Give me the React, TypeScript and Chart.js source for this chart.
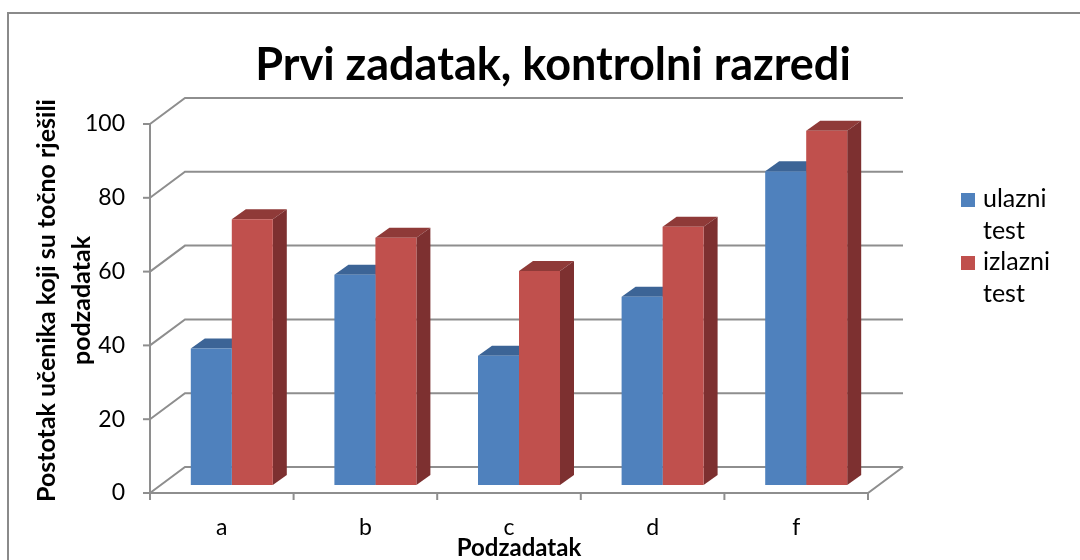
import React, { useEffect, useRef } from "react";
import { Chart, registerables } from "chart.js";

Chart.register(...registerables);

const categories = ["a", "b", "c", "d", "f"];
const ulazniTest = [37, 57, 35, 51, 85];
const izlazniTest = [72, 67, 58, 70, 96];
const seriesNames = [["ulazni", "test"], ["izlazni", "test"]];
const yMin = 0;
const yMax = 100;
const yStep = 20;

const FONT = "Lato, 'Open Sans', sans-serif";
const GRID = "#8e8e8e";
const BLUE = "#4F81BD";
const BLUE_TOP = "#3C6496";
const BLUE_SIDE = "#385D8A";
const RED = "#C0504D";
const RED_TOP = "#8F3A38";
const RED_SIDE = "#7D3030";

// 3D offsets (style)
const FRONT_DX = -10;
const FRONT_DY = 8;
const BACK_DX = 25;
const BACK_DY = -18;
const BAR_DX = 14;
const BAR_DY = -10;

const tops = [BLUE_TOP, RED_TOP];
const sides = [BLUE_SIDE, RED_SIDE];
const fronts = [BLUE, RED];

const threeD = {
  id: "threeD",
  beforeDatasetsDraw(chart: any) {
    const { ctx, chartArea } = chart;
    const ys = chart.scales.y;
    const fl = chartArea.left + FRONT_DX;
    const fr = chartArea.right + FRONT_DX;
    const bl = chartArea.left + BACK_DX;
    const br = chartArea.right + BACK_DX;
    const y0 = ys.getPixelForValue(yMin);
    const yT = ys.getPixelForValue(yMax);
    ctx.save();
    ctx.strokeStyle = GRID;
    ctx.lineWidth = 2;
    ctx.lineJoin = "miter";
    ys.ticks.forEach((t: any) => {
      const py = ys.getPixelForValue(t.value);
      ctx.beginPath();
      ctx.moveTo(fl, py + FRONT_DY);
      ctx.lineTo(bl, py + BACK_DY);
      ctx.lineTo(br, py + BACK_DY);
      ctx.stroke();
      ctx.beginPath();
      ctx.moveTo(fl - 7, py + FRONT_DY);
      ctx.lineTo(fl, py + FRONT_DY);
      ctx.stroke();
    });
    ctx.beginPath();
    ctx.moveTo(fl, yT + FRONT_DY);
    ctx.lineTo(fl, y0 + FRONT_DY);
    ctx.lineTo(fr, y0 + FRONT_DY);
    ctx.lineTo(br, y0 + BACK_DY);
    ctx.stroke();
    const n = categories.length;
    for (let i = 0; i <= n; i++) {
      const px = fl + (i * (fr - fl)) / n;
      ctx.beginPath();
      ctx.moveTo(px, y0 + FRONT_DY);
      ctx.lineTo(px, y0 + FRONT_DY + 7);
      ctx.stroke();
    }
    // bar tops and sides
    chart.data.datasets.forEach((_: any, di: number) => {
      const meta = chart.getDatasetMeta(di);
      meta.data.forEach((el: any) => {
        const x0 = el.x - el.width / 2;
        const x1 = el.x + el.width / 2;
        const top = el.y;
        const base = el.base;
        ctx.fillStyle = tops[di];
        ctx.beginPath();
        ctx.moveTo(x0, top);
        ctx.lineTo(x1, top);
        ctx.lineTo(x1 + BAR_DX, top + BAR_DY);
        ctx.lineTo(x0 + BAR_DX, top + BAR_DY);
        ctx.closePath();
        ctx.fill();
        ctx.fillStyle = sides[di];
        ctx.beginPath();
        ctx.moveTo(x1, top);
        ctx.lineTo(x1 + BAR_DX, top + BAR_DY);
        ctx.lineTo(x1 + BAR_DX, base + BAR_DY);
        ctx.lineTo(x1, base);
        ctx.closePath();
        ctx.fill();
      });
    });
    ctx.restore();
  },
  afterDraw(chart: any) {
    const { ctx } = chart;
    ctx.save();
    // outer frame
    ctx.strokeStyle = "#8a8a8a";
    ctx.lineWidth = 2;
    ctx.strokeRect(8, 13, 1200, 700);
    // legend
    ctx.font = `25px ${FONT}`;
    ctx.fillStyle = "#000";
    ctx.textBaseline = "alphabetic";
    ctx.textAlign = "left";
    const lx = 961;
    const starts = [207, 270];
    seriesNames.forEach((lines, i) => {
      const by = starts[i];
      ctx.fillStyle = fronts[i];
      ctx.fillRect(lx, by - 14, 14, 14);
      ctx.fillStyle = "#000";
      lines.forEach((ln, j) => {
        ctx.fillText(ln, lx + 22, by + j * 32);
      });
    });
    ctx.restore();
  },
};

export default function App() {
  const ref = useRef<HTMLCanvasElement>(null);
  useEffect(() => {
    if (!ref.current) return;
    const chart = new Chart(ref.current, {
      type: "bar",
      data: {
        labels: categories,
        datasets: [
          {
            label: seriesNames[0].join(" "),
            data: ulazniTest,
            backgroundColor: BLUE,
            borderWidth: 0,
            categoryPercentage: 0.571,
            barPercentage: 1,
          },
          {
            label: seriesNames[1].join(" "),
            data: izlazniTest,
            backgroundColor: RED,
            borderWidth: 0,
            categoryPercentage: 0.571,
            barPercentage: 1,
          },
        ],
      },
      plugins: [threeD],
      options: {
        responsive: false,
        animation: false,
        devicePixelRatio: 1,
        layout: { padding: { left: 26, right: 0, top: 0, bottom: 0 } },
        plugins: {
          legend: { display: false },
          tooltip: { enabled: false },
          title: {
            display: true,
            text: "Prvi zadatak, kontrolni razredi",
            color: "#000",
            font: { family: FONT, size: 45, weight: "bold", lineHeight: 1.2 },
            padding: { top: 38, bottom: 24 },
          },
        },
        scales: {
          x: {
            grid: { display: false, drawTicks: false },
            border: { display: false },
            ticks: {
              color: "#000",
              font: { family: FONT, size: 23 },
              padding: 29,
              labelOffset: FRONT_DX,
              maxRotation: 0,
            },
            title: {
              display: true,
              text: "Podzadatak",
              color: "#000",
              font: { family: FONT, size: 24, weight: "bold", lineHeight: 1 },
              padding: { top: 0, bottom: 0 },
            },
            afterFit: (s: any) => {
              s.height = 75;
            },
          },
          y: {
            min: yMin,
            max: yMax,
            grid: { display: false, drawTicks: false },
            border: { display: false },
            ticks: {
              stepSize: yStep,
              color: "#000",
              font: { family: FONT, size: 23 },
              padding: 35,
              labelOffset: FRONT_DY,
            },
            title: {
              display: true,
              text: ["Postotak učenika koji su točno rješili", "podzadatak"],
              color: "#000",
              font: { family: FONT, size: 25, weight: "bold", lineHeight: "35px" },
              padding: { top: 3, bottom: 0 },
            },
            afterFit: (s: any) => {
              s.width = 134;
            },
          },
          yRight: {
            position: "right",
            display: true,
            grid: { display: false, drawTicks: false },
            border: { display: false },
            ticks: { display: false },
            afterFit: (s: any) => {
              s.width = 202;
            },
          },
        },
      },
    } as any);
    return () => chart.destroy();
  }, []);
  return (
    <div style={{ position: "fixed", left: 0, top: 0, width: 1080, height: 560, background: "#fff" }}>
      <canvas ref={ref} width={1080} height={560} style={{ width: 1080, height: 560, display: "block" }} />
    </div>
  );
}
